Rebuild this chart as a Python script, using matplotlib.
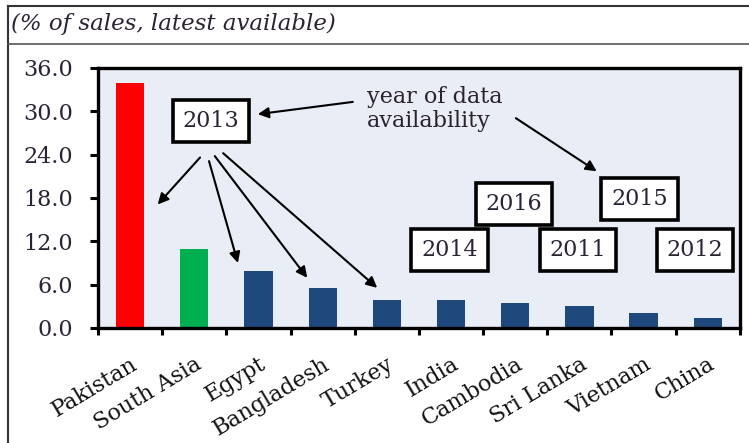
import numpy as np
import matplotlib
matplotlib.use('Agg')
import matplotlib.pyplot as plt
from matplotlib.lines import Line2D

plt.rcParams['font.family'] = ['DejaVu Serif']

countries = ['Pakistan', 'South Asia', 'Egypt', 'Bangladesh', 'Turkey',
             'India', 'Cambodia', 'Sri Lanka', 'Vietnam', 'China']
values = [33.9, 10.9, 7.9, 5.5, 3.9, 3.9, 3.5, 3.1, 2.1, 1.4]
bar_colors = ['#FF0000', '#00B050'] + ['#1F497D'] * 8

year_labels = ['2013', '2014', '2016', '2011', '2015', '2012']
year_pos = [(1.26, 28.6), (4.98, 10.8), (5.98, 17.2), (6.98, 10.8), (7.94, 17.8), (8.80, 10.8)]

txt_col = '#2B2233'

fig = plt.figure(figsize=(7.49, 4.43), dpi=100)
ax = fig.add_axes([0.1308, 0.2596, 0.857, 0.587])
ax.set_facecolor('#E9EDF5')

x = np.arange(len(countries))
ax.bar(x, values, width=0.44, color=bar_colors, zorder=2)

ax.set_xlim(-0.5, len(countries) - 0.5)
ax.set_ylim(0, 36)
ax.set_yticks(np.arange(0, 37, 6))
ax.set_yticklabels([f'{v:.1f}' for v in np.arange(0, 37, 6)], fontsize=16, color=txt_col)
ax.tick_params(axis='y', direction='out', length=6, width=2.2, pad=12)

# ticks between categories, labels at centres
ax.set_xticks(np.arange(-0.5, len(countries), 1.0))
ax.set_xticklabels([])
ax.tick_params(axis='x', which='major', direction='out', length=5, width=2.2)
ax.set_xticks(x, minor=True)
ax.set_xticklabels(countries, minor=True, rotation=31, ha='right', va='top',
                   rotation_mode='anchor', fontsize=16, color='#111111')
ax.tick_params(axis='x', which='minor', length=0, pad=18)

for s in ax.spines.values():
    s.set_linewidth(2.4)
    s.set_color('black')

# year boxes
for lab, (px, py) in zip(year_labels, year_pos):
    ax.text(px, py, lab, ha='center', va='center', fontsize=16, color=txt_col, zorder=5,
            bbox=dict(boxstyle='square,pad=0.45', fc='white', ec='black', lw=2.6))

ax.text(3.69, 30.3, 'year of data\navailability', ha='left', va='center', fontsize=16,
        color=txt_col, linespacing=1.15, zorder=5)

arrows = [((3.47, 31.3), (1.99, 29.6)),
          ((6.01, 29.05), (7.27, 21.7)),
          ((1.09, 23.6), (0.43, 17.1)),
          ((1.23, 23.1), (1.68, 9.0)),
          ((1.32, 23.8), (2.76, 6.95)),
          ((1.45, 24.2), (3.85, 5.56))]
for tail, head in arrows:
    ax.annotate('', xy=head, xytext=tail, zorder=4,
                arrowprops=dict(arrowstyle='-|>', color='black', lw=1.5,
                                mutation_scale=16, shrinkA=0, shrinkB=0))

# outer frame and title strip
fig.add_artist(Line2D([8 / 749, 8 / 749], [0, 1 - 6 / 443], color='#333333', lw=1.5))
fig.add_artist(Line2D([8 / 749, 1], [1 - 6 / 443, 1 - 6 / 443], color='#333333', lw=1.5))
fig.add_artist(Line2D([8 / 749, 1], [1 - 44 / 443, 1 - 44 / 443], color='#555555', lw=1.2))
fig.text(11 / 749, 1 - 24 / 443, '(% of sales, latest available)', fontsize=16.5,
         style='italic', color=txt_col, ha='left', va='center')

fig.savefig('out.png', dpi=100)
